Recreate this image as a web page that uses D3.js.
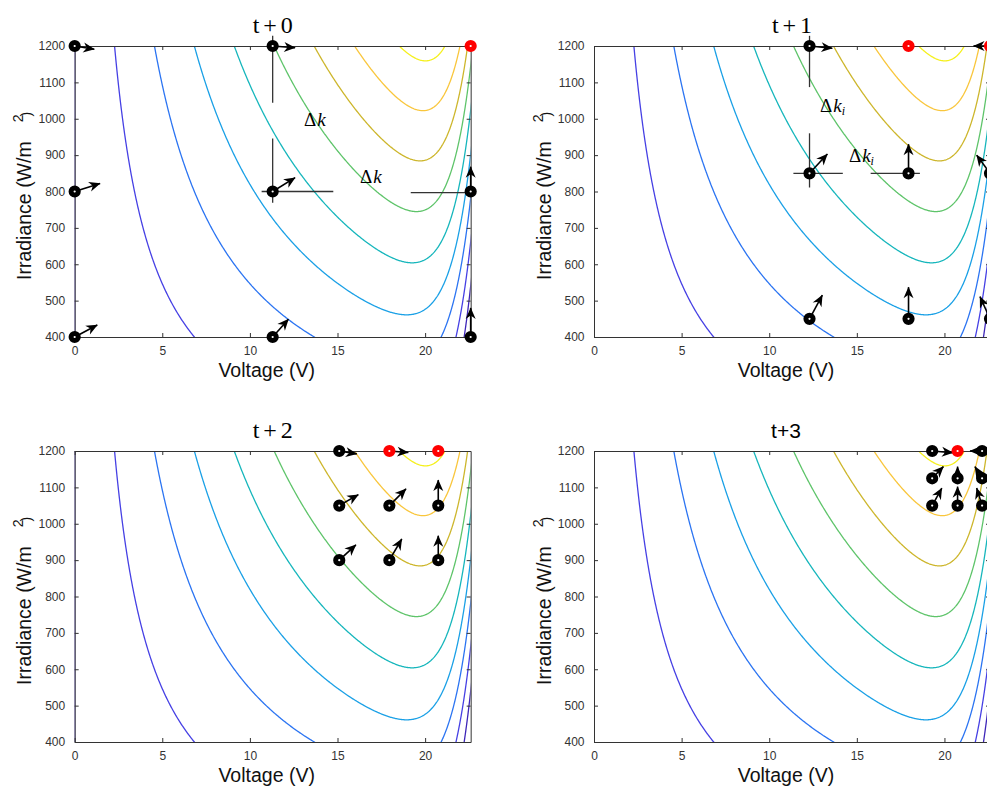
<!DOCTYPE html>
<html>
<head>
<meta charset="utf-8">
<script src="https://cdn.jsdelivr.net/npm/d3@7"></script>
<style>
  body { margin: 0; background: #fff; }
  svg { display: block; }
</style>
</head>
<body>
<svg id="chart" width="987" height="787"></svg>
<script>
// ---- axes ----
const voltageTicks = [0, 5, 10, 15, 20];
const irradianceTicks = [400, 500, 600, 700, 800, 900, 1000, 1100, 1200];
const voltageMax = 22.6;
const irradianceRange = [400, 1200];

// ---- power contour levels (W) and their colours ----
const powerLevels = [0, 10, 20, 30, 40, 50, 60, 70, 80];
const levelColors = ["#3e26b8", "#4640e4", "#2b74f2", "#1aa0e6", "#16b6bc",
                     "#5ec46a", "#cdb62c", "#f9c63c", "#f5f01c"];

// ---- single-diode PV module ----
const iscRef = 3.66;      // short-circuit current at 1000 W/m² (A)
const diodeI0 = 2.4e-8;   // saturation current (A)
const diodeVt = 1.24;     // modified thermal voltage n·Ns·kT/q (V)

const panelTitles = ["t+0", "t+1", "t+2", "t+3"];

// candidate operating points: [V, G, best]
const pointsT0 = [[0,1200,0],[0,800,0],[0,400,0],[11.3,1200,0],[11.3,800,0],[11.3,400,0],[22.6,1200,1],[22.6,800,0],[22.6,400,0]];
const pointsT1 = [[12.3,1200,0],[12.3,850,0],[12.3,450,0],[17.95,1200,1],[17.95,850,0],[17.95,450,0],[22.6,1200,1],[22.6,850,0],[22.6,450,0]];
const pointsT2 = [[15.1,1200,0],[17.96,1200,1],[20.75,1200,1],[15.1,1050,0],[17.96,1050,0],[20.75,1050,0],[15.1,900,0],[17.96,900,0],[20.75,900,0]];
const pointsT3 = [[19.3,1200,0],[20.75,1200,1],[22.15,1200,0],[19.3,1125,0],[20.75,1125,0],[22.15,1125,0],[19.3,1050,0],[20.75,1050,0],[22.15,1050,0]];

// gradient arrows: [V0, G0, V1, G1]
const arrowsT0 = [[0,1200,1.12,1191],[0,800,1.45,822],[0,400,1.29,433],[11.3,1200,12.58,1195],
                  [11.3,800,12.58,838],[11.3,400,12.2,449],[22.6,800,22.6,868],[22.6,400,22.6,480]];
const arrowsT1 = [[12.3,1200,13.6,1194],[12.3,850,13.32,903],[12.3,450,13.03,515],[17.95,850,17.95,930],
                  [17.95,450,17.95,537],[22.6,1200,21.66,1200],[22.6,850,21.84,900],[22.6,450,22.03,511]];
const arrowsT2 = [[15.1,1200,16.1,1192],[17.96,1200,19.04,1196],[15.1,1050,16.19,1080],[17.96,1050,18.91,1096],
                  [20.75,1050,20.75,1120],[15.1,900,16.05,942],[17.96,900,18.67,958],[20.75,900,20.75,967]];
const arrowsT3 = [[19.3,1200,20.48,1195],[22.15,1200,21.46,1200],[19.3,1125,19.94,1157],[20.75,1125,20.75,1157],
                  [22.15,1125,21.74,1157],[19.3,1050,19.85,1098],[20.75,1050,20.75,1102],[22.15,1050,21.84,1098]];

// step-size search segments: [V0, G0, V1, G1]
const searchT0 = [[11.3,1228,11.3,1044],[11.3,946,11.3,769],[10.67,800,14.76,800],[19.18,797,22.6,797]];
const searchT1 = [[12.3,1228,12.3,1087],[12.3,960,12.3,811],[11.38,850,14.2,850],[15.79,850,18.6,850]];

// step-size labels: [symbol, variable, subscript, V, G]
const labelsT0 = [["Δ", "k", "", 13.09, 980], ["Δ", "k", "", 16.28, 822]];
const labelsT1 = [["Δ", "k", "i", 12.9, 1018], ["Δ", "k", "i", 14.55, 881]];

const panelPoints = [pointsT0, pointsT1, pointsT2, pointsT3];
const panelArrows = [arrowsT0, arrowsT1, arrowsT2, arrowsT3];
const panelSearch = [searchT0, searchT1, [], []];
const panelLabels = [labelsT0, labelsT1, [], []];

// ---- layout ----
const plotW = 396, plotH = 291;
const panels = [{x0: 74.67, y0: 46}, {x0: 594, y0: 46}, {x0: 74.67, y0: 451}, {x0: 594, y0: 451}];

const svg = d3.select("#chart");
const defs = svg.append("defs");
defs.append("marker")
  .attr("id", "head")
  .attr("markerUnits", "userSpaceOnUse")
  .attr("orient", "auto")
  .attr("markerWidth", 16).attr("markerHeight", 16)
  .attr("viewBox", "-13 -8 16 16")
  .attr("refX", 0).attr("refY", 0)
  .append("path")
  .attr("d", "M0.5,0 L-11,-5 L-7.6,0 L-11,5 Z")
  .attr("fill", "#000");

// ---- power surface P(V, G) on a padded grid ----
const gridV = [-1, 24], gridG = [300, 1300];
const dV = 0.04, dG = 2;
const nx = Math.round((gridV[1] - gridV[0]) / dV) + 1;
const ny = Math.round((gridG[1] - gridG[0]) / dG) + 1;
const field = new Float64Array(nx * ny);
for (let j = 0; j < ny; j++) {
  const G = gridG[0] + j * dG;
  const iph = iscRef * G / 1000;
  for (let i = 0; i < nx; i++) {
    const V = gridV[0] + i * dV;
    const I = iph - diodeI0 * (Math.exp(V / diodeVt) - 1);
    field[j * nx + i] = V * I;
  }
}
const contourSet = d3.contours().size([nx, ny]).thresholds(powerLevels)(field);

panels.forEach((p, k) => {
  const x = d3.scaleLinear().domain([0, voltageMax]).range([p.x0, p.x0 + plotW]);
  const y = d3.scaleLinear().domain(irradianceRange).range([p.y0 + plotH, p.y0]);
  const g = svg.append("g");

  const clipId = "clip" + k;
  defs.append("clipPath").attr("id", clipId)
    .append("rect").attr("x", p.x0).attr("y", p.y0).attr("width", plotW).attr("height", plotH);

  const toScreen = d3.geoTransform({
    point: function (cx, cy) {
      this.stream.point(x(gridV[0] + (cx - 0.5) * dV), y(gridG[0] + (cy - 0.5) * dG));
    }
  });
  const path = d3.geoPath(toScreen);

  g.append("g").attr("clip-path", `url(#${clipId})`)
    .selectAll("path").data(contourSet).join("path")
    .attr("d", path)
    .attr("fill", "none")
    .attr("stroke", (d, i) => levelColors[i])
    .attr("stroke-width", 1.3);

  // axes box with inward ticks
  const axisStyle = sel => {
    sel.attr("font-family", "'Liberation Sans', Arial, sans-serif").attr("font-size", 12);
    sel.select(".domain").attr("stroke", "#333").attr("stroke-width", 1);
    sel.selectAll(".tick line").attr("stroke", "#333");
    sel.selectAll(".tick text").attr("fill", "#333");
  };
  const fmt = d3.format("d");
  g.append("g").attr("transform", `translate(0,${p.y0 + plotH})`)
    .call(d3.axisBottom(x).tickValues(voltageTicks).tickFormat(fmt).tickSizeInner(-4).tickSizeOuter(0).tickPadding(9.5))
    .call(axisStyle);
  g.append("g").attr("transform", `translate(0,${p.y0})`)
    .call(d3.axisTop(x).tickValues(voltageTicks).tickSizeInner(-4).tickSizeOuter(0).tickFormat(""))
    .call(axisStyle);
  g.append("g").attr("transform", `translate(${p.x0},0)`)
    .call(d3.axisLeft(y).tickValues(irradianceTicks).tickFormat(fmt).tickSizeInner(-4).tickSizeOuter(0).tickPadding(9.5))
    .call(axisStyle);
  g.append("g").attr("transform", `translate(${p.x0 + plotW},0)`)
    .call(d3.axisRight(y).tickValues(irradianceTicks).tickSizeInner(-4).tickSizeOuter(0).tickFormat(""))
    .call(axisStyle);

  // axis labels
  g.append("text")
    .attr("x", p.x0 + 192).attr("y", p.y0 + plotH + 40)
    .attr("text-anchor", "middle")
    .attr("font-family", "'Liberation Sans', Arial, sans-serif").attr("font-size", 19.5)
    .attr("fill", "#111")
    .text("Voltage (V)");
  const yl = g.append("text")
    .attr("transform", `translate(${p.x0 - 43.5},${p.y0 + 234}) rotate(-90)`)
    .attr("font-family", "'Liberation Sans', Arial, sans-serif").attr("font-size", 19.5)
    .attr("fill", "#111");
  yl.append("tspan").text("Irradiance (W/m");
  yl.append("tspan").attr("dx", 19).attr("dy", -8).attr("font-size", 14).text("2");
  yl.append("tspan").attr("dx", -2).attr("dy", 8).attr("font-size", 14).text(")");

  // title
  const t = g.append("text")
    .attr("y", p.y0 - 13)
    .attr("fill", "#000");
  if (k < 3) {
    t.attr("x", p.x0 + 198 - 20).attr("font-family", "'Liberation Serif', 'DejaVu Serif', serif")
      .attr("font-size", 24).attr("textLength", 40).attr("lengthAdjust", "spacing");
  } else {
    t.attr("x", p.x0 + 192).attr("text-anchor", "middle")
      .attr("font-family", "'Liberation Sans', Arial, sans-serif").attr("font-size", 21);
  }
  t.text(panelTitles[k]);

  // search segments
  g.append("g").selectAll("line").data(panelSearch[k]).join("line")
    .attr("x1", d => x(d[0])).attr("y1", d => y(d[1]))
    .attr("x2", d => x(d[2])).attr("y2", d => y(d[3]))
    .attr("stroke", "#333").attr("stroke-width", 1.3);

  // step labels
  const lab = g.append("g").selectAll("text").data(panelLabels[k]).join("text")
    .attr("x", d => x(d[3])).attr("y", d => y(d[4]))
    .attr("font-family", "'Liberation Serif', 'DejaVu Serif', serif").attr("font-size", 19)
    .attr("fill", "#000");
  lab.append("tspan").text(d => d[0]);
  lab.append("tspan").attr("font-style", "italic").attr("dx", 1).text(d => d[1]);
  lab.filter(d => d[2]).append("tspan").attr("font-style", "italic").attr("font-size", 12)
    .attr("dy", 3).text(d => d[2]);

  // gradient arrows
  g.append("g").selectAll("line").data(panelArrows[k]).join("line")
    .attr("x1", d => x(d[0])).attr("y1", d => y(d[1]))
    .attr("x2", d => x(d[2])).attr("y2", d => y(d[3]))
    .attr("stroke", "#000").attr("stroke-width", 1.6)
    .attr("marker-end", "url(#head)");

  // operating points
  g.append("g").selectAll("circle").data(panelPoints[k]).join("circle")
    .attr("cx", d => x(d[0])).attr("cy", d => y(d[1]))
    .attr("r", 3.6)
    .attr("fill", "#fff")
    .attr("stroke", d => d[2] ? "#f00" : "#000")
    .attr("stroke-width", 5);
});
</script>
</body>
</html>
